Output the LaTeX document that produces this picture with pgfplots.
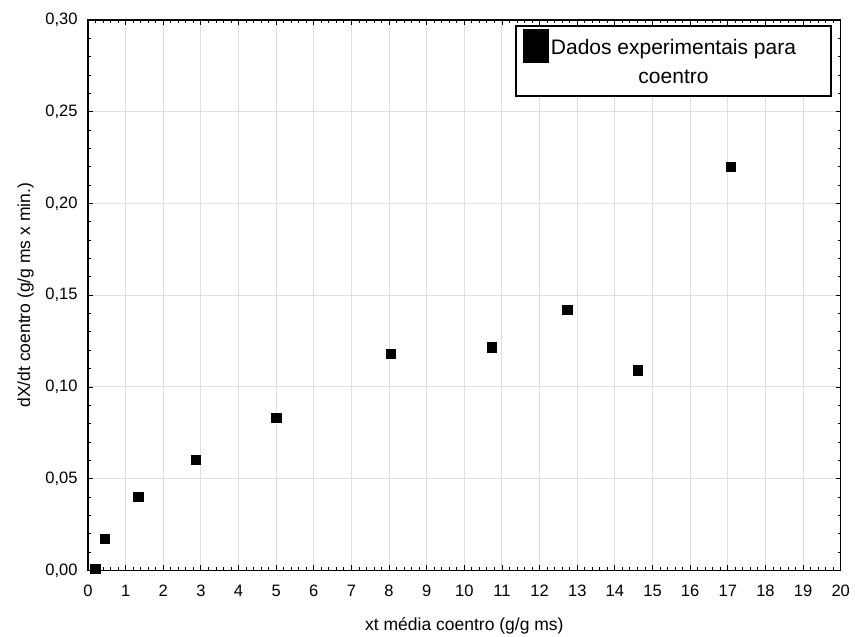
\documentclass[border=0pt]{standalone}
\usepackage{pgfplots}
\pgfplotsset{compat=1.18}
\usepackage{fontspec}
\setmainfont{Liberation Sans}
\definecolor{gridgray}{RGB}{222,222,222}
\begin{document}
\begin{tikzpicture}
\path[use as bounding box] (0pt,0pt) rectangle (855pt,637pt);
\begin{axis}[
  at={(88pt,66.5pt)}, anchor=south west,
  scale only axis, width=752.7pt, height=550.5pt,
  xmin=0, xmax=20, ymin=0, ymax=0.30,
  xtick={0,1,...,20},
  ytick={0,0.05,0.10,0.15,0.20,0.25,0.30},
  minor x tick num=4, minor y tick num=4,
  grid=major,
  major grid style={gridgray, line width=1pt},
  axis line style={black, line width=1.3pt},
  tick style={black, line width=0.9pt},
  major tick length=5pt, minor tick length=3pt,
  tick align=inside,
  /pgf/number format/assume math mode=true,
  xticklabel style={font=\fontsize{16.5}{18}\selectfont, anchor=base, inner sep=0pt, yshift=-26.5pt},
  yticklabel style={font=\fontsize{16.5}{18}\selectfont, anchor=east, inner sep=0pt, xshift=-10.3pt,
     /pgf/number format/fixed, /pgf/number format/fixed zerofill, /pgf/number format/precision=2, /pgf/number format/use comma},
  scaled y ticks=false,
  xlabel={xt média coentro (g/g ms)},
  ylabel={dX/dt coentro (g/g ms x min.)},
  every axis x label/.style={at={(rel axis cs:0.5,0)}, anchor=base, yshift=-60.5pt, font=\fontsize{17.5}{20}\selectfont},
  every axis y label/.style={at={(rel axis cs:0,0.5)}, anchor=center, xshift=-62.5pt, rotate=90, font=\fontsize{17.5}{20}\selectfont},
  clip mode=individual,
  legend style={at={(rel axis cs:1,1)}, anchor=north east, xshift=-8.7pt, yshift=-5pt,
    draw=black, line width=1.8pt, inner sep=0pt, column sep=0pt,
    nodes={inner sep=0pt}, cells={anchor=base west},
    font=\fontsize{21}{28.3}\selectfont},
]
\addplot[only marks, mark=square*, mark size=4.6pt, black,
  mark options={solid, fill=black, line width=0pt},
  legend image code/.code={%
    \path[draw=none, fill=none] (0pt,-41.1pt) rectangle (33.4pt,29.1pt);
    \fill[black, draw=none] (6.8pt,-8.3pt) rectangle (33.4pt,25.7pt);}]
coordinates {
(0.20,0.001) (0.46,0.017) (1.34,0.040) (2.86,0.060) (5.01,0.083)
(8.06,0.118) (10.74,0.1215) (12.74,0.142) (14.62,0.109) (17.09,0.220)
};
\legend{\parbox[t]{281.8pt}{\parbox[t]{248.4pt}{\centering Dados experimentais para\\coentro}}}
\end{axis}
\end{tikzpicture}
\end{document}
